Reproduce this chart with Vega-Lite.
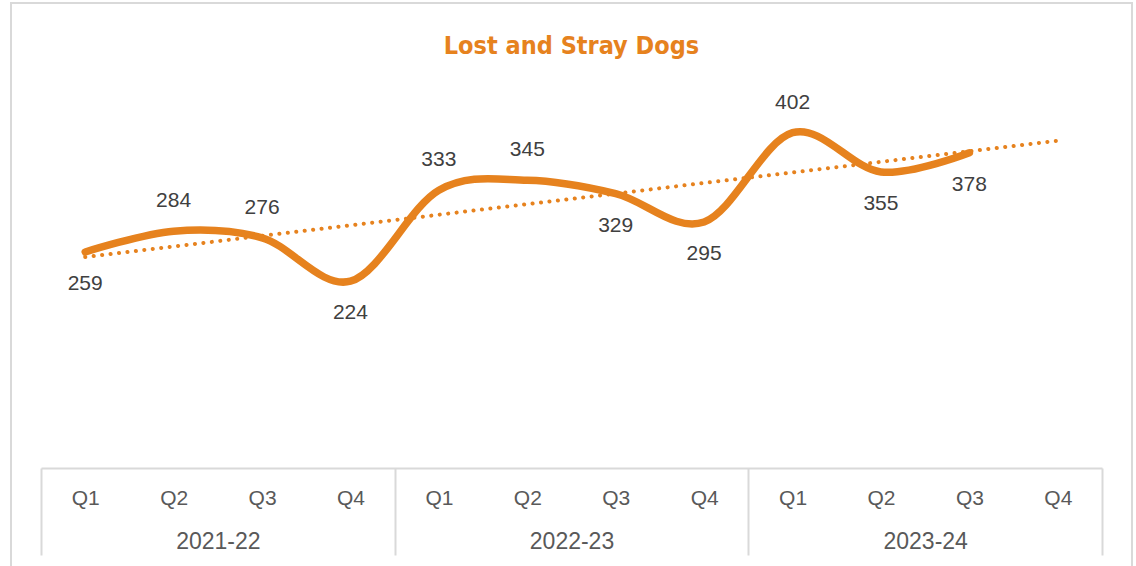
{
  "$schema": "https://vega.github.io/schema/vega-lite/v6.json",
  "width": 1121,
  "height": 580,
  "autosize": {"type": "none"},
  "padding": {"left": 11, "top": 3, "right": 4, "bottom": 0},
  "title": {
    "text": "Lost and Stray Dogs",
    "font": "DejaVu Sans Condensed",
    "fontSize": 25,
    "fontWeight": "bold",
    "color": "#E6821E",
    "anchor": "middle",
    "frame": "group",
    "baseline": "alphabetic",
    "offset": -76
  },
  "config": {
    "view": {"stroke": "#d9d9d9", "strokeWidth": 2},
    "font": "Liberation Sans"
  },
  "datasets": {
    "dogs": [
      {"idx": 1, "year": "2021-22", "quarter": "Q1", "dogs": 259},
      {"idx": 2, "year": "2021-22", "quarter": "Q2", "dogs": 284},
      {"idx": 3, "year": "2021-22", "quarter": "Q3", "dogs": 276},
      {"idx": 4, "year": "2021-22", "quarter": "Q4", "dogs": 224},
      {"idx": 5, "year": "2022-23", "quarter": "Q1", "dogs": 333},
      {"idx": 6, "year": "2022-23", "quarter": "Q2", "dogs": 345},
      {"idx": 7, "year": "2022-23", "quarter": "Q3", "dogs": 329},
      {"idx": 8, "year": "2022-23", "quarter": "Q4", "dogs": 295},
      {"idx": 9, "year": "2023-24", "quarter": "Q1", "dogs": 402},
      {"idx": 10, "year": "2023-24", "quarter": "Q2", "dogs": 355},
      {"idx": 11, "year": "2023-24", "quarter": "Q3", "dogs": 378}
    ],
    "years": [
      {"year": "2021-22"},
      {"year": "2022-23"},
      {"year": "2023-24"}
    ]
  },
  "resolve": {"scale": {"x": "independent"}, "axis": {"x": "independent"}},
  "layer": [
    {
      "data": {"name": "dogs"},
      "encoding": {
        "x": {
          "field": "idx",
          "type": "quantitative",
          "scale": {"domain": [0.5, 12.5], "range": [30, 1091], "nice": false, "zero": false},
          "axis": {
            "orient": "bottom",
            "offset": -115,
            "values": [1, 2, 3, 4, 5, 6, 7, 8, 9, 10, 11, 12],
            "labelExpr": "'Q' + ((datum.value - 1) % 4 + 1)",
            "domain": true,
            "domainColor": "#d9d9d9",
            "domainWidth": 2,
            "ticks": false,
            "tickSize": 0,
            "grid": false,
            "title": null,
            "labelPadding": 19,
            "labelFontSize": 21,
            "labelFont": "Liberation Sans",
            "labelColor": "#595959",
            "labelFlush": false,
            "labelOverlap": false
          }
        },
        "y": {
          "field": "dogs",
          "type": "quantitative",
          "scale": {"domain": [0, 500], "range": [465, 48], "nice": false, "zero": false},
          "axis": null
        }
      },
      "layer": [
        {
          "mark": {"type": "line", "interpolate": "cardinal", "strokeWidth": 7.5, "strokeCap": "round", "strokeJoin": "round", "color": "#E6821E"}
        },
        {
          "transform": [{"regression": "dogs", "on": "idx", "extent": [1, 12]}],
          "mark": {"type": "line", "strokeDash": [0.1, 8.4], "strokeCap": "round", "strokeWidth": 4, "color": "#E6821E"}
        },
        {
          "transform": [{"filter": {"field": "idx", "oneOf": [2, 3, 5, 6, 9]}}],
          "mark": {"type": "text", "dy": -30, "fontSize": 21, "font": "Liberation Sans", "color": "#404040", "baseline": "middle"},
          "encoding": {"text": {"field": "dogs", "type": "quantitative"}}
        },
        {
          "transform": [{"filter": {"not": {"field": "idx", "oneOf": [2, 3, 5, 6, 9]}}}],
          "mark": {"type": "text", "dy": 32, "fontSize": 21, "font": "Liberation Sans", "color": "#404040", "baseline": "middle"},
          "encoding": {"text": {"field": "dogs", "type": "quantitative"}}
        }
      ]
    },
    {
      "data": {"name": "years"},
      "mark": {"type": "rule", "opacity": 0},
      "encoding": {
        "x": {
          "field": "year",
          "type": "nominal",
          "scale": {"type": "band", "domain": ["2021-22", "2022-23", "2023-24"], "range": [30, 1091], "paddingInner": 0, "paddingOuter": 0},
          "axis": {
            "orient": "bottom",
            "offset": -115,
            "domain": false,
            "ticks": true,
            "tickBand": "extent",
            "tickSize": 87,
            "tickColor": "#d9d9d9",
            "tickWidth": 2,
            "grid": false,
            "title": null,
            "labelAngle": 0,
            "labelPadding": -25,
            "labelFontSize": 23,
            "labelFont": "Liberation Sans",
            "labelColor": "#595959"
          }
        }
      }
    }
  ]
}
